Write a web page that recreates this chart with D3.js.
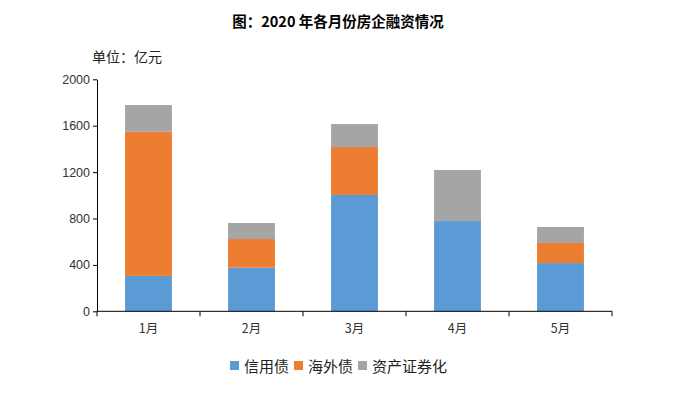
<!DOCTYPE html>
<html>
<head>
<meta charset="utf-8">
<script src="https://cdn.jsdelivr.net/npm/d3@7"></script>
<style>
  body { margin: 0; background: #fff; }
  text { font-family: "Noto Sans CJK SC", "Noto Sans", sans-serif; }
</style>
</head>
<body>
<svg id="chart" width="684" height="393"></svg>
<script>
const months = ["1月", "2月", "3月", "4月", "5月"];
const creditBond = [305, 376, 1003, 778, 416];
const overseasBond = [1243, 247, 413, 0, 173];
const abs = [230, 138, 198, 440, 138];
const seriesNames = ["信用债", "海外债", "资产证券化"];
const seriesColors = ["#5b9bd5", "#ed7d31", "#a5a5a5"];
const yTicks = [0, 400, 800, 1200, 1600, 2000];

const svg = d3.select("#chart");
const x0 = 97, x1 = 612, yTop = 79.3, yBottom = 311.3;

const rows = months.map((m, i) => ({ month: m, "信用债": creditBond[i], "海外债": overseasBond[i], "资产证券化": abs[i] }));
const stacked = d3.stack().keys(seriesNames)(rows);

const xScale = d3.scaleBand().domain(months).range([x0, x1]).paddingInner(0.545).paddingOuter(0.2725);
const yScale = d3.scaleLinear().domain([0, 2000]).range([yBottom, yTop]);
const color = d3.scaleOrdinal().domain(seriesNames).range(seriesColors);

// title
svg.append("text")
  .attr("x", 338).attr("y", 27)
  .attr("text-anchor", "middle")
  .attr("font-size", 14.5).attr("font-weight", "bold").attr("fill", "#000")
  .text("图：2020 年各月份房企融资情况");

svg.append("text")
  .attr("x", 92).attr("y", 62)
  .attr("font-size", 14).attr("fill", "#222")
  .text("单位：亿元");

// bars
svg.append("g").selectAll("g")
  .data(stacked)
  .join("g")
    .attr("fill", d => color(d.key))
  .selectAll("rect")
  .data(d => d)
  .join("rect")
    .attr("x", d => xScale(d.data.month))
    .attr("width", xScale.bandwidth())
    .attr("y", d => yScale(d[1]))
    .attr("height", d => yScale(d[0]) - yScale(d[1]));

// y axis
const yAxis = svg.append("g")
  .attr("transform", `translate(${x0},0)`)
  .call(d3.axisLeft(yScale).tickValues(yTicks).tickFormat(d3.format("d")).tickSize(4).tickPadding(3).tickSizeOuter(0));
yAxis.select(".domain").attr("stroke", "#000");
yAxis.selectAll(".tick line").attr("stroke", "#000");
yAxis.selectAll(".tick text").attr("font-size", 12.5).attr("fill", "#333")
  .style("font-family", "'Liberation Sans', Arial, sans-serif");

// x axis with ticks at band boundaries
const xAxis = svg.append("g").attr("transform", `translate(0,${yBottom})`);
xAxis.append("line").attr("x1", x0).attr("x2", x1).attr("stroke", "#000");
const step = (x1 - x0) / months.length;
xAxis.selectAll(".bound")
  .data(d3.range(months.length + 1))
  .join("line")
    .attr("class", "bound")
    .attr("x1", i => x0 + i * step).attr("x2", i => x0 + i * step)
    .attr("y1", 0).attr("y2", 5)
    .attr("stroke", "#000");
xAxis.selectAll(".lbl")
  .data(months)
  .join("text")
    .attr("class", "lbl")
    .attr("x", d => xScale(d) + xScale.bandwidth() / 2)
    .attr("y", 22)
    .attr("text-anchor", "middle")
    .attr("font-size", 12.5).attr("fill", "#333")
    .text(d => d);

// legend
const legend = svg.append("g").attr("transform", "translate(230,366)");
let lx = 0;
seriesNames.forEach((name, i) => {
  const g = legend.append("g").attr("transform", `translate(${lx},0)`);
  g.append("rect").attr("x", 0).attr("y", -5).attr("width", 9).attr("height", 9).attr("fill", seriesColors[i]);
  const t = g.append("text").attr("x", 14).attr("y", 5.5).attr("font-size", 15).attr("fill", "#222").text(name);
  lx += 14 + t.node().getComputedTextLength() + 5;
});
</script>
</body>
</html>
